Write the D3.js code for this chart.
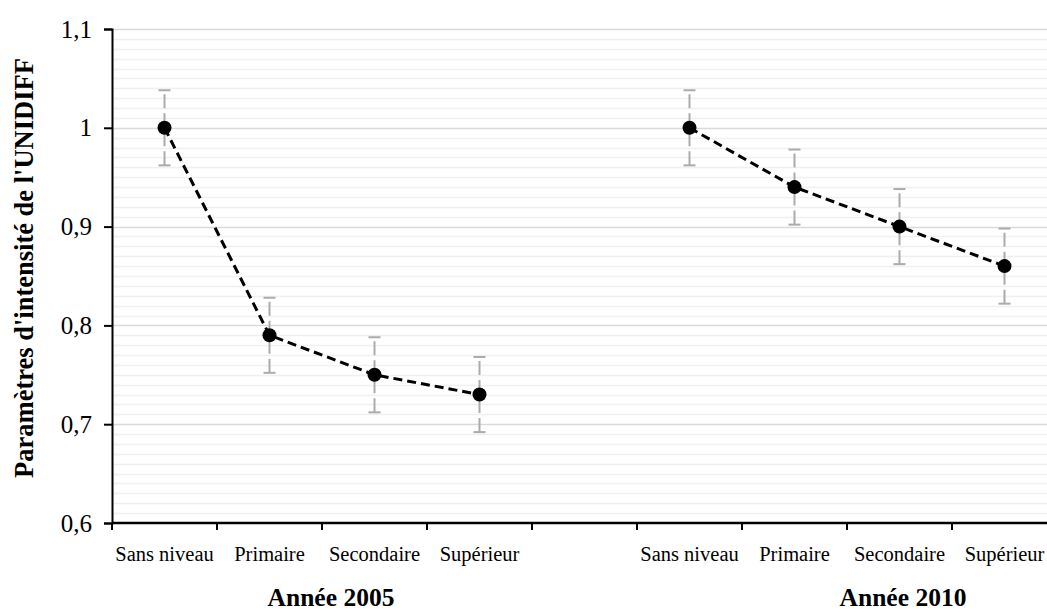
<!DOCTYPE html>
<html><head><meta charset="utf-8">
<script src="https://cdn.jsdelivr.net/npm/d3@7"></script>
<style>
html,body{margin:0;padding:0;background:#fff;}
svg{display:block;font-family:"Liberation Serif","Times New Roman",serif;}
</style></head>
<body>
<svg id="c" width="1047" height="612"></svg>
<script>
const categories = ["Sans niveau", "Primaire", "Secondaire", "Supérieur"];
const years = ["Année 2005", "Année 2010"];
const values2005 = [1.00, 0.79, 0.75, 0.73];
const values2010 = [1.00, 0.94, 0.90, 0.86];
const errors2005 = [0.038, 0.038, 0.038, 0.038];
const errors2010 = [0.038, 0.038, 0.038, 0.038];
const yTicks = [0.6, 0.7, 0.8, 0.9, 1.0, 1.1];
const yTickLabels = ["0,6", "0,7", "0,8", "0,9", "1", "1,1"];
const yTitle = "Paramètres d'intensité de l'UNIDIFF";

(function () {
const svg = d3.select("#c");
const mLeft = 112, mRight = 1057, mTop = 29, mBottom = 523;

const slots = [
  ...categories.map(c => "2005|" + c),
  "gap",
  ...categories.map(c => "2010|" + c)
];
const x = d3.scaleBand().domain(slots).range([mLeft, mRight]).padding(0);
const y = d3.scaleLinear().domain([0.6, 1.1]).range([mBottom, mTop]);

const minor = d3.range(61, 110).map(v => v / 100).filter(v => Math.round(v * 100) % 10 !== 0);
svg.append("g").selectAll("line").data(minor).join("line")
  .attr("x1", mLeft).attr("x2", mRight)
  .attr("y1", d => Math.round(y(d)) + 0.5).attr("y2", d => Math.round(y(d)) + 0.5)
  .attr("stroke", "#f0f0f0").attr("stroke-width", 1.5);
svg.append("g").selectAll("line").data(yTicks.filter(v => v > 0.6)).join("line")
  .attr("x1", mLeft).attr("x2", mRight)
  .attr("y1", d => Math.round(y(d)) + 0.5).attr("y2", d => Math.round(y(d)) + 0.5)
  .attr("stroke", "#d9d9d9").attr("stroke-width", 1.5);

const yAxis = d3.axisLeft(y).tickValues(yTicks)
  .tickFormat((d, i) => yTickLabels[i]).tickSize(8).tickPadding(12);
const gy = svg.append("g").attr("transform", `translate(${mLeft},0)`).call(yAxis);
gy.select(".domain").attr("stroke", "#000").attr("stroke-width", 2);
gy.selectAll(".tick line").attr("stroke", "#000").attr("stroke-width", 2);
gy.selectAll(".tick text").attr("font-size", 25).attr("fill", "#000")
  .attr("font-family", "Liberation Serif");

const gx = svg.append("g").attr("transform", `translate(0,${mBottom})`);
gx.append("line").attr("x1", mLeft).attr("x2", mRight).attr("stroke", "#000").attr("stroke-width", 2.5);
const bounds = slots.map(s => x(s)).concat([x(slots[slots.length - 1]) + x.bandwidth()]);
gx.selectAll("line.tk").data(bounds).join("line").attr("class", "tk")
  .attr("x1", d => d).attr("x2", d => d).attr("y1", 0).attr("y2", 7)
  .attr("stroke", "#000").attr("stroke-width", 2);
gx.selectAll("text").data(slots.filter(s => s !== "gap")).join("text")
  .attr("x", d => x(d) + x.bandwidth() / 2).attr("y", 38)
  .attr("text-anchor", "middle").attr("font-size", 20.5).attr("fill", "#000")
  .text(d => d.split("|")[1]);

svg.append("text").attr("x", 331).attr("y", 606).attr("text-anchor", "middle")
  .attr("font-size", 25.5).attr("font-weight", "bold").text(years[0]);
svg.append("text").attr("x", 903).attr("y", 606).attr("text-anchor", "middle")
  .attr("font-size", 25.5).attr("font-weight", "bold").text(years[1]);

svg.append("text").attr("transform", `translate(33,268) rotate(-90)`)
  .attr("text-anchor", "middle").attr("font-size", 26.5).attr("font-weight", "bold")
  .text(yTitle);

const series = [
  { key: "2005", vals: values2005, errs: errors2005 },
  { key: "2010", vals: values2010, errs: errors2010 }
];
const cx = (s, i) => x(s.key + "|" + categories[i]) + x.bandwidth() / 2;
series.forEach(s => {
  const g = svg.append("g");
  s.vals.forEach((v, i) => {
    const px = cx(s, i);
    g.append("line").attr("x1", px).attr("x2", px)
      .attr("y1", y(v - s.errs[i])).attr("y2", y(v + s.errs[i]))
      .attr("stroke", "#ababab").attr("stroke-width", 2).attr("stroke-dasharray", "14,5");
    [v - s.errs[i], v + s.errs[i]].forEach(e => {
      g.append("line").attr("x1", px - 6).attr("x2", px + 6)
        .attr("y1", y(e)).attr("y2", y(e))
        .attr("stroke", "#ababab").attr("stroke-width", 2);
    });
  });
  const line = d3.line().x((d, i) => cx(s, i)).y(d => y(d));
  g.append("path").attr("d", line(s.vals)).attr("fill", "none")
    .attr("stroke", "#000").attr("stroke-width", 3).attr("stroke-dasharray", "9,5");
  g.selectAll("circle").data(s.vals).join("circle")
    .attr("cx", (d, i) => cx(s, i)).attr("cy", d => y(d)).attr("r", 7).attr("fill", "#000");
});
})();
</script>
</body></html>
